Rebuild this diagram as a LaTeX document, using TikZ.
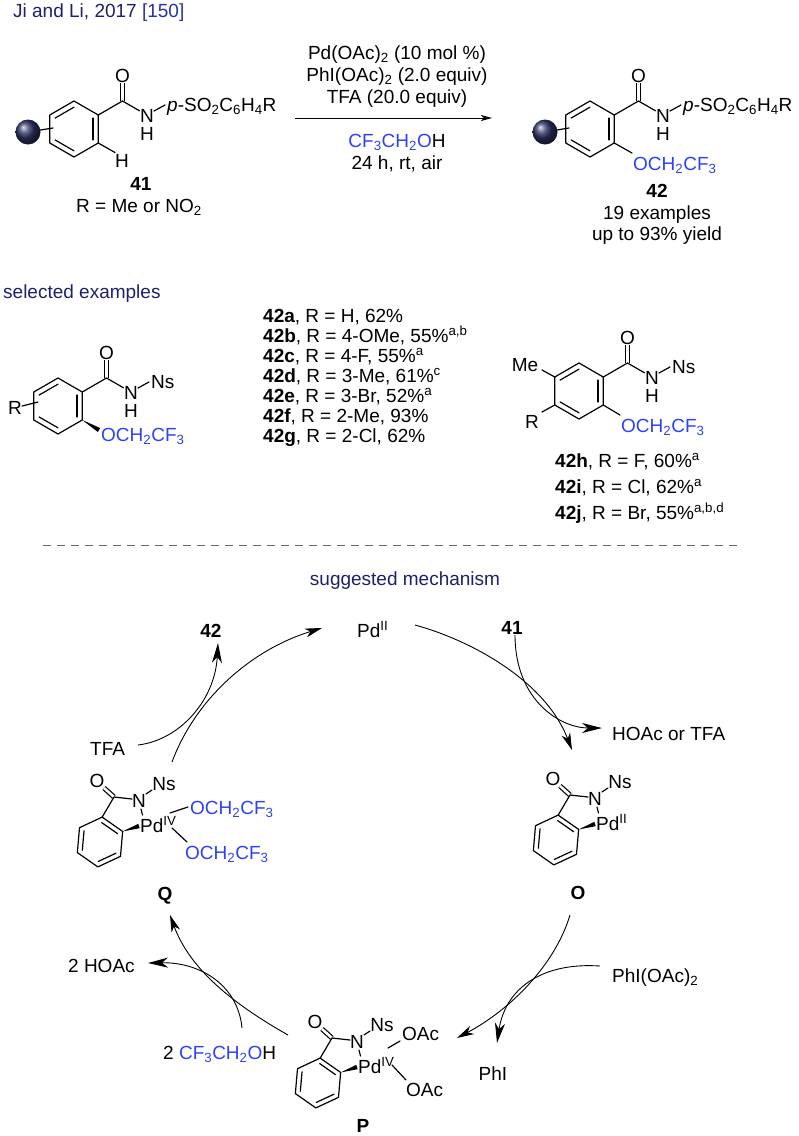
\documentclass[tikz,border=0pt]{standalone}
\usepackage{fontspec}
\setmainfont{Liberation Sans}
\usetikzlibrary{calc,arrows.meta}

\definecolor{titlenavy}{RGB}{30,32,105}
\definecolor{refblue}{RGB}{40,50,170}
\definecolor{tfeblue}{RGB}{45,65,245}
\definecolor{balldark}{RGB}{45,50,100}

\newcommand{\subs}[1]{\textsubscript{#1}}
\newcommand{\sups}[1]{\textsuperscript{#1}}
\newcommand{\tfeoh}{\textcolor{tfeblue}{CF\subs{3}CH\subs{2}O}H}
\newcommand{\otfe}{\textcolor{tfeblue}{OCH\subs{2}CF\subs{3}}}

\newcommand{\benzring}[3]{%
  \begin{scope}[shift={(#1)}]
    \draw[bond] (#3:#2) -- (#3+60:#2) -- (#3+120:#2) -- (#3+180:#2) -- (#3+240:#2) -- (#3+300:#2) -- cycle;
    \foreach \ang in {0,120,240}
      \draw[bond] (#3+\ang:0.78*#2) -- (#3+\ang+60:0.78*#2);
  \end{scope}}

\newcommand{\benzamide}[3]{%
  \begin{scope}[shift={(#1)}]
    \draw[dbond] (48.5,-28) -- (48.5,-46);
    \draw[bond] (330:28) -- (48.5,-28) -- (65.5,-18.2);
    \draw[bond] (80,-18) -- (91,-24);
    \node (#3O) at (48.5,-53) {O};
    \node (#3N) at (73,-13) {N};
    \node (#3H) at (73,5) {H};
    \node[anchor=base west] (#3S) at (93,-18) {#2};
  \end{scope}
  \benzring{#1}{28}{90}}

\newcommand{\pdcycle}[3]{%
  \begin{scope}[shift={(#1)}]
    \draw[dbond] (14,-45) -- (4,-54);
    \draw[bond] (-85:25) -- (14,-45) -- (32,-43);
    \draw[bond] (46,-48) -- (52,-52);
    \draw[bond] (41,-33) -- (42.5,-27);
    \coordinate (#3c2) at (-25:25);
    \coordinate (#3wd) at (39,-16);
    \fill (#3c2) -- ($(#3wd)!2.3pt!90:(#3c2)$) -- ($(#3wd)!2.3pt!-90:(#3c2)$) -- cycle;
    \node (#3O) at (-3,-61) {O};
    \node (#3N) at (39,-41) {N};
    \node (#3Ns) at (64,-58) {Ns};
    \node[anchor=base west] (#3Pd) at (40,-10) {Pd\sups{#2}};
  \end{scope}
  \benzring{#1}{25}{-85}}

\begin{document}
\begin{tikzpicture}[x=1pt,y=-1pt,
  every node/.style={font=\fontsize{19}{22}\selectfont,inner sep=0pt},
  bond/.style={line width=1.2pt,line join=round,line cap=round},
  dbond/.style={line width=1.2pt,double,double distance=2.6pt,line cap=butt},
  arr/.style={line width=0.9pt,-{Stealth[length=17pt,width=9pt,inset=5pt]}},
  side/.style={line width=0.9pt,-{Stealth[length=20pt,width=10pt,inset=6pt]}}]
\useasboundingbox (0,0) rectangle (799,1136);

\node[anchor=base west,text=titlenavy] (title) at (13,17) {Ji and Li, 2017 \textcolor{refblue}{[150]}};

\draw[bond] (28,132) -- (53,128);
\shade[ball color=balldark] (28,132) circle [radius=12.5pt];
\benzamide{74,129}{\textit{p}-SO\subs{2}C\subs{6}H\subs{4}R}{s}
\draw[bond] (98.25,143) -- (115,152.5);
\node (sH2) at (122,161) {H};
\node[anchor=base] (n41) at (141,190) {\textbf{41}};
\node[anchor=base] (rdef) at (139,212) {R = Me or NO\subs{2}};

\coordinate (rxs) at (295,118);
\coordinate (rxe) at (492,118);
\draw[line width=0.9pt,-{Stealth[length=11pt,width=6pt,inset=3pt]}] (rxs) -- (rxe);
\node[anchor=base] (cond1) at (397,59) {Pd(OAc)\subs{2} (10 mol \%)};
\node[anchor=base] (cond2) at (397,81) {PhI(OAc)\subs{2} (2.0 equiv)};
\node[anchor=base] (cond3) at (397,103) {TFA (20.0 equiv)};
\node[anchor=base] (cond4) at (397,147) {\tfeoh};
\node[anchor=base] (cond5) at (397,169) {24 h, rt, air};

\draw[bond] (545,132) -- (569,128);
\shade[ball color=balldark] (545,132) circle [radius=12.5pt];
\benzamide{590,129}{\textit{p}-SO\subs{2}C\subs{6}H\subs{4}R}{p}
\draw[bond] (614.25,143) -- (632,153);
\node[anchor=base west] (pOR) at (633,170) {\otfe};
\node[anchor=base] (n42) at (657,197) {\textbf{42}};
\node[anchor=base] (nex) at (657,219) {19 examples};
\node[anchor=base] (nyld) at (657,240) {up to 93\% yield};

\node[anchor=base west,text=titlenavy] (selex) at (3,298) {selected examples};

\benzamide{58,406}{Ns}{l}
\draw[bond] (22,406) -- (38,402);
\node (lR) at (15,408) {R};
\coordinate (lw1) at (82.25,420);
\coordinate (lw2) at (99,430);
\fill (lw1) -- ($(lw2)!2.3pt!90:(lw1)$) -- ($(lw2)!2.3pt!-90:(lw1)$) -- cycle;
\node[anchor=base west] (lOR) at (101,441) {\otfe};

\node[anchor=base west] (ex1) at (263,322) {\textbf{42a}, R = H, 62\%};
\node[anchor=base west] (ex2) at (263,342) {\textbf{42b}, R = 4-OMe, 55\%\sups{a,b}};
\node[anchor=base west] (ex3) at (263,362) {\textbf{42c}, R = 4-F, 55\%\sups{a}};
\node[anchor=base west] (ex4) at (263,382) {\textbf{42d}, R = 3-Me, 61\%\sups{c}};
\node[anchor=base west] (ex5) at (263,402) {\textbf{42e}, R = 3-Br, 52\%\sups{a}};
\node[anchor=base west] (ex6) at (263,422) {\textbf{42f}, R = 2-Me, 93\%};
\node[anchor=base west] (ex7) at (263,442) {\textbf{42g}, R = 2-Cl, 62\%};

\benzamide{579,391}{Ns}{r}
\draw[bond] (554.75,377) -- (542,370);
\node (rMe) at (525,365) {Me};
\draw[bond] (554.75,405) -- (542,412);
\node (rR) at (532,422) {R};
\draw[bond] (603.25,405) -- (620,415);
\node[anchor=base west] (rOR) at (621,432) {\otfe};

\node[anchor=base west] (ex8) at (555,467) {\textbf{42h}, R = F, 60\%\sups{a}};
\node[anchor=base west] (ex9) at (555,493) {\textbf{42i}, R = Cl, 62\%\sups{a}};
\node[anchor=base west] (ex10) at (555,519) {\textbf{42j}, R = Br, 55\%\sups{a,b,d}};

\coordinate (dl) at (43,545);
\coordinate (dr) at (743,545);
\draw[line width=0.9pt,dash pattern=on 8pt off 6pt,black!60] (dl) -- (dr);

\node[anchor=base,text=titlenavy] (mech) at (405,585) {suggested mechanism};
\node[anchor=base west] (pd2) at (357,637) {Pd\sups{II}};
\node[anchor=base] (m42) at (211,637) {\textbf{42}};
\node[anchor=base] (m41) at (512,634) {\textbf{41}};
\node[anchor=base west] (hoac) at (612,740) {HOAc or TFA};
\node[anchor=base west] (tfa) at (90,755) {TFA};

\pdcycle{100,842}{IV}{q}
\draw[bond] (170,813) -- (188,807);
\draw[bond] (172,828) -- (187,842);
\node[anchor=base west] (qo1) at (190,814) {\otfe};
\node[anchor=base west] (qo2) at (185,859) {\otfe};
\node[anchor=base] (lq) at (165,900) {\textbf{Q}};

\pdcycle{556,840}{II}{o}
\node[anchor=base] (lo) at (578,899) {\textbf{O}};

\pdcycle{318,1083}{IV}{k}
\draw[bond] (388,1048) -- (400,1041);
\draw[bond] (392,1065) -- (406,1080);
\node[anchor=base west] (ka1) at (402,1040) {OAc};
\node[anchor=base west] (ka2) at (406,1096) {OAc};
\node[anchor=base] (lp) at (363,1132) {\textbf{P}};

\node[anchor=base west] (phio) at (612,982) {PhI(OAc)\subs{2}};
\node[anchor=base] (phi) at (493,1080) {PhI};
\node[anchor=base west] (hoac2) at (68,972) {2 HOAc};
\node[anchor=base west] (tfe2) at (163,1059) {2 \tfeoh};

\coordinate (a1s) at (172,762);
\coordinate (a1e) at (322,628);
\draw[arr] (a1s) .. controls (195,700) and (250,650) .. (a1e);
\coordinate (a2s) at (138,745);
\coordinate (a2e) at (218,643);
\draw[side] (a2s) .. controls (180,740) and (215,700) .. (a2e);
\coordinate (a3s) at (415,625);
\coordinate (a3e) at (572,750);
\draw[arr] (a3s) .. controls (470,640) and (545,680) .. (a3e);
\coordinate (a4s) at (515,635);
\coordinate (a4e) at (602,728);
\draw[side] (a4s) .. controls (515,700) and (560,728) .. (a4e);
\coordinate (a5s) at (570,915);
\coordinate (a5e) at (457,1038);
\draw[arr] (a5s) .. controls (555,965) and (510,1010) .. (a5e);
\coordinate (a6s) at (600,966);
\coordinate (a6e) at (497,1043);
\draw[side] (a6s) .. controls (540,962) and (505,990) .. (a6e);
\coordinate (a7s) at (288,1035);
\coordinate (a7e) at (170,915);
\draw[arr] (a7s) .. controls (235,1005) and (190,970) .. (a7e);
\coordinate (a8s) at (242,1028);
\coordinate (a8e) at (148,963);
\draw[side] (a8s) .. controls (238,985) and (200,962) .. (a8e);
\end{tikzpicture}
\end{document}
